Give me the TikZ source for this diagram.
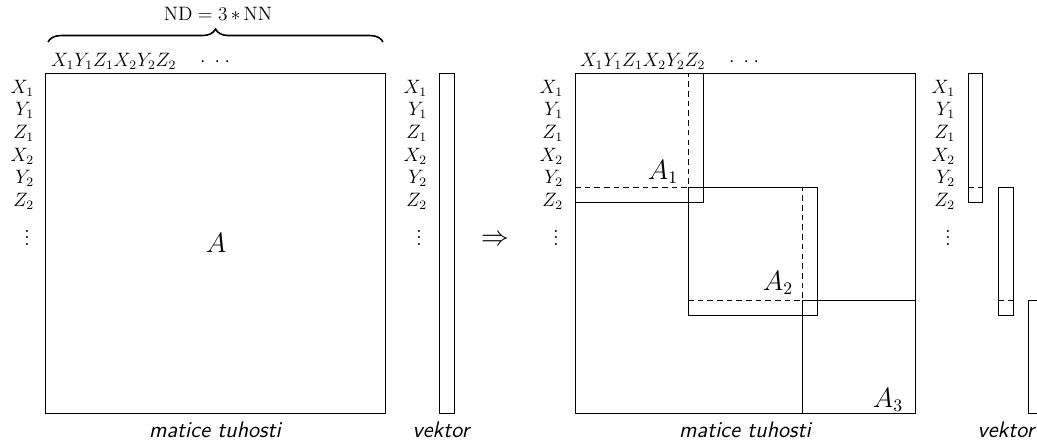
\documentclass[tikz,border=0pt]{standalone}
\usetikzlibrary{decorations.pathreplacing}
\begin{document}
\begin{tikzpicture}[x=0.62pt,y=-0.62pt,
  every node/.style={inner sep=0pt,outer sep=0pt,font=\fontsize{12}{14}\selectfont},
  frame/.style={line width=0.5pt},
  dsh/.style={line width=0.5pt,dash pattern=on 3.5pt off 2.5pt},
  rowlbl/.style={anchor=east},
  vd/.style={font=\fontsize{15.5}{17}\selectfont},
  blk/.style={font=\fontsize{16}{18}\selectfont},
  caption/.style={font=\sffamily\itshape\fontsize{14}{16}\selectfont}]
\useasboundingbox (0,0) rectangle (1037,443);
\clip (0,0) rectangle (1037,443);
% brace
\coordinate (bl) at (48,42);
\coordinate (br) at (383,42);
\draw[decorate,decoration={brace,amplitude=8pt},line width=1pt] (bl) -- (br);
\node (nd) at (218,14) {$\mathrm{ND} = 3\,{\ast}\,\mathrm{NN}$};
% left matrix
\draw[frame] (45,73) rectangle (385,413);
\node[anchor=west] (colL) at (51,61) {$X_1Y_1Z_1X_2Y_2Z_2\quad\cdot\hspace{3pt}\cdot\hspace{3pt}\cdot$};
\foreach \t [count=\i] in {X_1,Y_1,Z_1,X_2,Y_2,Z_2}{
  \node[rowlbl] (rl\i) at (34,{88+22.7*(\i-1)}) {$\t$};
  \node[rowlbl] (vl\i) at (427,{88+22.7*(\i-1)}) {$\t$};
  \node[rowlbl] (rr\i) at (563,{88+22.7*(\i-1)}) {$\t$};
  \node[rowlbl] (vr\i) at (955,{88+22.7*(\i-1)}) {$\t$};
}
\node[vd] (dl) at (27,233) {$\vdots$};
\node[vd] (dvl) at (419,233) {$\vdots$};
\node[vd] (dr) at (556,233) {$\vdots$};
\node[vd] (dvr) at (948,233) {$\vdots$};
\node[blk] (A) at (216,243) {$A$};
% left vector
\draw[frame] (439,73) rectangle (454,413);
% arrow
\node[blk] (arr) at (495,240) {$\Rightarrow$};
% right matrix
\draw[frame] (575,73) rectangle (915,413);
\node[anchor=west] (colR) at (580,61) {$X_1Y_1Z_1X_2Y_2Z_2\quad\cdot\hspace{3pt}\cdot\hspace{3pt}\cdot$};
% A1
\draw[frame] (703,73) -- (703,202) -- (575,202);
\draw[dsh] (575,187) -- (688,187) -- (688,73);
\node[blk] (A1) at (663,172) {$A_1$};
% A2
\draw[frame] (688,187) rectangle (817,315);
\draw[dsh] (688,300) -- (802,300) -- (802,187);
\node[blk] (A2) at (778,283) {$A_2$};
% A3
\draw[frame] (802,413) -- (802,300) -- (915,300);
\node[blk] (A3) at (888,400) {$A_3$};
% right vectors
\draw[frame] (968,73) rectangle (982,202);
\draw[dsh] (968,187) -- (982,187);
\draw[frame] (998,187) rectangle (1013,315);
\draw[dsh] (998,300) -- (1013,300);
\draw[frame] (1028,300) rectangle (1043,413);
% captions
\node[caption] (c1) at (215,430) {matice tuhosti};
\node[caption] (c2) at (441,430) {vektor};
\node[caption] (c3) at (745,430) {matice tuhosti};
\node[caption] (c4) at (1006,430) {vektor};
\end{tikzpicture}
\end{document}
